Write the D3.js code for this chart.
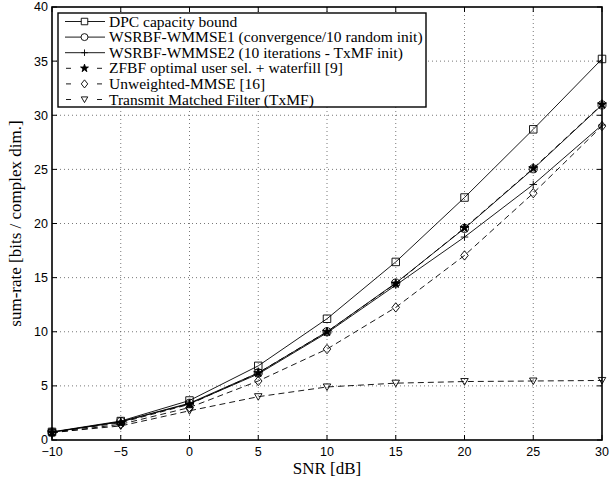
<!DOCTYPE html>
<style>
body { margin: 0; background: #fff; }
#thevis { background-color: #fff; }
.tick-lab { font-family: "Liberation Sans", Arial, sans-serif; font-size: 12.5px; }
.ax-title { font-family: "Liberation Serif", "Times New Roman", serif; font-size: 17px; }
.leg-text { font-family: "Liberation Serif", "Times New Roman", serif; font-size: 15.5px; }
</style>
<svg id="thevis" width="616" height="485"></svg>
<script src="https://cdn.jsdelivr.net/npm/d3@7"></script>
<script>

// values
var snr = [-10, -5, 0, 5, 10, 15, 20, 25, 30];
var dpc    = [0.75, 1.75, 3.65, 6.85, 11.2, 16.45, 22.4, 28.7, 35.2];
var wmmse1 = [0.72, 1.7, 3.4, 6.2, 10.0, 14.5, 19.55, 25.05, 30.95];
var wmmse2 = [0.72, 1.68, 3.35, 6.1, 9.9, 14.3, 18.75, 23.6, 29.1];
var zfbf   = [0.7, 1.6, 3.3, 6.2, 10.0, 14.45, 19.6, 25.1, 31.0];
var ummse  = [0.65, 1.45, 3.0, 5.45, 8.4, 12.25, 17.05, 22.8, 29.0];
var txmf   = [0.7, 1.3, 2.7, 4.0, 4.9, 5.25, 5.4, 5.45, 5.5];

var xTicks = [-10, -5, 0, 5, 10, 15, 20, 25, 30];
var yTicks = [0, 5, 10, 15, 20, 25, 30, 35, 40];

var names = [
	"DPC capacity bound",
	"WSRBF-WMMSE1 (convergence/10 random init)",
	"WSRBF-WMMSE2 (10 iterations - TxMF init)",
	"ZFBF optimal user sel. + waterfill [9]",
	"Unweighted-MMSE [16]",
	"Transmit Matched Filter (TxMF)"
];

var series = [
	{ name: names[0], values: dpc,    marker: "square",   dashed: false },
	{ name: names[1], values: wmmse1, marker: "circle",   dashed: false },
	{ name: names[2], values: wmmse2, marker: "plus",     dashed: false },
	{ name: names[3], values: zfbf,   marker: "star",     dashed: true },
	{ name: names[4], values: ummse,  marker: "diamond",  dashed: true },
	{ name: names[5], values: txmf,   marker: "triangle", dashed: true }
];

var svg = d3.select("svg");
var pl = 52, pr = 602, pt = 7, pb = 440;

var x = d3.scaleLinear().domain([-10, 30]).range([pl, pr]);
var y = d3.scaleLinear().domain([0, 40]).range([pb, pt]);

// grid
var grid = svg.append("g")
	.attr("stroke", "#555")
	.attr("stroke-width", 0.8)
	.attr("stroke-dasharray", "1,3");
grid.selectAll(".gx").data(xTicks.slice(1, -1)).enter().append("line")
	.attr("x1", function(d) { return x(d); }).attr("x2", function(d) { return x(d); })
	.attr("y1", pt).attr("y2", pb);
grid.selectAll(".gy").data(yTicks.slice(1, -1)).enter().append("line")
	.attr("y1", function(d) { return y(d); }).attr("y2", function(d) { return y(d); })
	.attr("x1", pl).attr("x2", pr);

// inside ticks on all four sides
var ticks = svg.append("g").attr("stroke", "#000").attr("stroke-width", 1);
xTicks.forEach(function(d) {
	ticks.append("line").attr("x1", x(d)).attr("x2", x(d)).attr("y1", pb).attr("y2", pb - 5);
	ticks.append("line").attr("x1", x(d)).attr("x2", x(d)).attr("y1", pt).attr("y2", pt + 5);
});
yTicks.forEach(function(d) {
	ticks.append("line").attr("y1", y(d)).attr("y2", y(d)).attr("x1", pl).attr("x2", pl + 5);
	ticks.append("line").attr("y1", y(d)).attr("y2", y(d)).attr("x1", pr).attr("x2", pr - 5);
});

// tick labels
svg.append("g").selectAll("text").data(xTicks).enter().append("text")
	.attr("class", "tick-lab")
	.attr("x", function(d) { return x(d); })
	.attr("y", pb + 16)
	.attr("text-anchor", "middle")
	.text(function(d) { return d < 0 ? "\u2212" + (-d) : d; });

svg.append("g").selectAll("text").data(yTicks).enter().append("text")
	.attr("class", "tick-lab")
	.attr("x", pl - 4)
	.attr("y", function(d) { return y(d); })
	.attr("dy", "0.35em")
	.attr("text-anchor", "end")
	.text(function(d) { return d; });

// markers
function markerPath(type, s) {
	var h = s / 2;
	if (type == "square") return "M" + (-h) + "," + (-h) + "h" + s + "v" + s + "h" + (-s) + "Z";
	if (type == "circle") return d3.symbol(d3.symbolCircle, Math.PI * h * h * 1.15)();
	if (type == "plus") return "M" + (-h) + ",0H" + h + "M0," + (-h) + "V" + h;
	if (type == "star") return d3.symbol(d3.symbolStar, s * s * 0.45)();
	if (type == "diamond") return "M0," + (-h * 1.25) + "L" + h + ",0L0," + (h * 1.25) + "L" + (-h) + ",0Z";
	if (type == "triangle") return "M" + (-h) + "," + (-h * 0.8) + "H" + h + "L0," + (h * 0.95) + "Z";
}

var line = d3.line()
	.x(function(d, i) { return x(snr[i]); })
	.y(function(d) { return y(d); });

var plot = svg.append("g");
series.forEach(function(s) {
	plot.append("path")
		.attr("d", line(s.values))
		.attr("fill", "none")
		.attr("stroke", "#000")
		.attr("stroke-width", 0.9)
		.attr("stroke-dasharray", s.dashed ? "6,4" : null);
	plot.selectAll(null).data(s.values).enter().append("path")
		.attr("transform", function(d, i) { return "translate(" + x(snr[i]) + "," + y(d) + ")"; })
		.attr("d", markerPath(s.marker, 7.5))
		.attr("fill", s.marker == "star" ? "#000" : "none")
		.attr("stroke", "#000")
		.attr("stroke-width", 0.9);
});

// axes box
svg.append("rect")
	.attr("x", pl).attr("y", pt)
	.attr("width", pr - pl).attr("height", pb - pt)
	.attr("fill", "none").attr("stroke", "#000").attr("stroke-width", 1.6);

// axis titles
svg.append("text")
	.attr("class", "ax-title")
	.attr("x", (pl + pr) / 2)
	.attr("y", 474)
	.attr("text-anchor", "middle")
	.text("SNR [dB]");

svg.append("text")
	.attr("class", "ax-title")
	.attr("transform", "translate(21," + (pt + pb) / 2 + ") rotate(-90)")
	.attr("text-anchor", "middle")
	.text("sum-rate [bits / complex dim.]");

// legend
var lg = svg.append("g");
lg.append("rect")
	.attr("x", 58).attr("y", 13)
	.attr("width", 368).attr("height", 94)
	.attr("fill", "#fff").attr("stroke", "#000").attr("stroke-width", 1.4);

var rows = lg.selectAll("g").data(series).enter().append("g")
	.attr("transform", function(d, i) { return "translate(0," + (21.5 + i * 15.6) + ")"; });

rows.append("line")
	.attr("x1", function(d) { return d.dashed ? 66 : 65; })
	.attr("x2", function(d) { return d.dashed ? 102 : 105; })
	.attr("stroke", "#000").attr("stroke-width", 0.9)
	.attr("stroke-dasharray", function(d) { return d.dashed ? "5,26" : null; });

rows.append("path")
	.attr("transform", "translate(84.5,0)")
	.attr("d", function(d) { return markerPath(d.marker, 6.5); })
	.attr("fill", function(d) { return d.marker == "star" ? "#000" : "#fff"; })
	.attr("stroke", "#000").attr("stroke-width", 0.9);

rows.append("text")
	.attr("class", "leg-text")
	.attr("x", 109)
	.attr("dy", "0.33em")
	.text(function(d) { return d.name; });

</script>
